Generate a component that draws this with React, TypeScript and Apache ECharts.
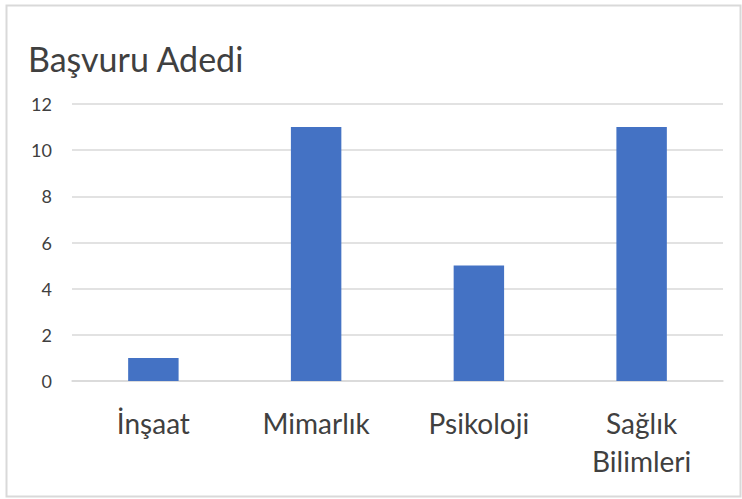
import React, { useEffect, useRef } from "react";
import * as echarts from "echarts";

const categories = ["İnşaat", "Mimarlık", "Psikoloji", "Sağlık\nBilimleri"];
const values = [1, 11, 5, 11];
const title = "Başvuru Adedi";

export default function App() {
  const ref = useRef<HTMLDivElement>(null);
  useEffect(() => {
    document.body.style.margin = "0";
    const chart = echarts.init(ref.current!, null, { renderer: "svg" });
    chart.setOption({
      animation: false,
      backgroundColor: "#ffffff",
      title: {
        text: title,
        left: 23,
        top: 36,
        textStyle: { fontFamily: "Lato", fontSize: 34, fontWeight: "normal", color: "#404040" },
      },
      graphic: [
        {
          type: "rect",
          shape: { x: 6.5, y: 5.5, width: 734, height: 491 },
          style: { fill: "none", stroke: "#d9d9d9", lineWidth: 2 },
          silent: true,
        },
      ],
      grid: { left: 72, right: 19, top: 104, bottom: 118 },
      xAxis: {
        type: "category",
        data: categories,
        axisLine: { lineStyle: { color: "#d9d9d9", width: 1.5 } },
        axisTick: { show: false },
        axisLabel: {
          color: "#404040",
          fontFamily: "Lato",
          fontSize: 28,
          margin: 23,
          lineHeight: 38,
          verticalAlign: "top",
        },
      },
      yAxis: {
        type: "value",
        min: 0,
        max: 12,
        interval: 2,
        axisLine: { show: false },
        axisTick: { show: false },
        splitLine: { lineStyle: { color: "#d9d9d9", width: 1.5 } },
        axisLabel: { color: "#404040", fontFamily: "Lato", fontSize: 18, margin: 20 },
      },
      series: [
        {
          type: "bar",
          data: values,
          barWidth: "31%",
          itemStyle: { color: "#4472C4" },
        },
      ],
    });
    return () => chart.dispose();
  }, []);
  return <div ref={ref} style={{ position: "absolute", left: 0, top: 0, width: 742, height: 499 }} />;
}
